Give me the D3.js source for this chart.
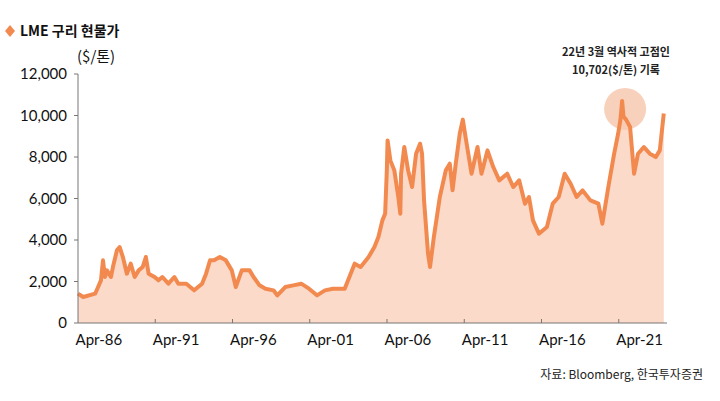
<!DOCTYPE html><html><head><meta charset="utf-8"><script src="https://cdn.jsdelivr.net/npm/d3@7/dist/d3.min.js"></script>
<style>body{margin:0;background:#fff;font-family:"Noto Sans CJK KR","Noto Sans",sans-serif}</style></head><body><svg id="c" width="720" height="401"></svg>
<script>
const years=[1984.94,1985.28,1986.06,1986.44,1986.57,1986.70,1986.83,1987.09,1987.22,1987.48,1987.66,1987.87,1988.13,1988.38,1988.64,1988.90,1989.16,1989.37,1989.55,1989.94,1990.19,1990.45,1990.84,1991.23,1991.49,1992.01,1992.52,1993.04,1993.30,1993.56,1993.82,1994.20,1994.59,1994.98,1995.24,1995.63,1996.14,1996.40,1996.79,1997.18,1997.70,1997.95,1998.47,1998.99,1999.51,2000.02,2000.54,2001.06,2001.58,2002.35,2002.74,2003.00,2003.39,2003.91,2004.29,2004.55,2004.81,2004.99,2005.10,2005.15,2005.33,2005.59,2005.85,2005.98,2006.03,2006.24,2006.49,2006.75,2007.01,2007.27,2007.40,2007.53,2007.79,2007.92,2008.17,2008.56,2008.95,2009.21,2009.39,2009.60,2009.86,2010.06,2010.24,2010.63,2011.02,2011.28,2011.67,2012.05,2012.44,2012.96,2013.35,2013.74,2014.12,2014.38,2014.64,2015.03,2015.55,2015.93,2016.32,2016.71,2017.10,2017.49,2017.88,2018.39,2018.91,2019.17,2019.56,2019.94,2020.20,2020.35,2020.46,2020.55,2020.72,2020.98,2021.24,2021.50,2021.88,2022.27,2022.66,2022.92,2023.18,2023.39];
const prices=[1413,1253,1413,2056,3019,2216,2537,2216,2698,3501,3662,3180,2377,2859,2216,2537,2698,3180,2377,2216,2056,2216,1895,2216,1895,1895,1574,1895,2377,3019,3019,3180,3019,2537,1734,2537,2537,2216,1815,1654,1574,1333,1734,1815,1895,1654,1333,1574,1654,1654,2377,2859,2698,3180,3662,4143,4946,5268,7355,8801,7837,7355,6071,5268,7195,8480,7355,6552,8159,8640,8159,5910,3340,2698,4143,6071,7355,7677,6392,7677,9122,9800,8961,7195,8480,7195,8319,7516,6874,7195,6552,6874,5749,6071,4946,4304,4625,5749,6071,7195,6713,6071,6392,5910,5749,4786,6552,8159,9122,9800,10702,9950,9800,9443,7195,8159,8480,8159,7995,8319,10100];
const yTicks=[0,2000,4000,6000,8000,10000,12000];
const xLabels=["Apr-86","Apr-91","Apr-96","Apr-01","Apr-06","Apr-11","Apr-16","Apr-21"];

const svg=d3.select("#c");
const x=d3.scaleLinear().domain([years[0],years[years.length-1]]).range([78,667]);
const y=d3.scaleLinear().domain([0,12000]).range([323,74]);
const cat=d3.scaleLinear().domain([0,8]).range([78,696]);
const n=Math.min(years.length,prices.length);
const data=d3.range(n).map(i=>({t:years[i],v:prices[i]}));

const areaGen=d3.area().x(d=>x(d.t)).y0(()=>y(0)).y1(d=>y(d.v));
svg.append("path").attr("fill","#FBDACA").attr("d",areaGen(data));
const pk=data.reduce((a,b)=>b.v>a.v?b:a);
svg.append("circle").attr("cx",x(pk.t)+3).attr("cy",y(pk.v)+8).attr("r",21).attr("fill","#F7C9B0").attr("opacity",0.85);
const lineGen=d3.line().x(d=>x(d.t)).y(d=>y(d.v));
svg.append("path").attr("fill","none").attr("stroke","#F28A4F").attr("stroke-width",4).attr("stroke-linejoin","round").attr("d",lineGen(data));

svg.append("line").attr("x1",78).attr("x2",78).attr("y1",y(12000)).attr("y2",y(0)).attr("stroke","#777");
yTicks.forEach(v=>{
 svg.append("line").attr("x1",74).attr("x2",78).attr("y1",y(v)).attr("y2",y(v)).attr("stroke","#777");
 svg.append("text").attr("x",67).attr("y",y(v)+5).attr("text-anchor","end").attr("font-size",15).attr("fill","#111").attr("font-family","Lato, sans-serif").text(d3.format(",")(v));
});
svg.append("line").attr("x1",78).attr("x2",667).attr("y1",323).attr("y2",323).attr("stroke","#777");
for(let i=1;i<=7;i++) svg.append("line").attr("x1",cat(i)).attr("x2",cat(i)).attr("y1",319).attr("y2",323).attr("stroke","#777");
xLabels.forEach((l,i)=>svg.append("text").attr("x",cat(i+0.27)).attr("y",345).attr("text-anchor","middle").attr("font-size",15).attr("fill","#111").attr("font-family","Lato, sans-serif").text(l));

svg.append("path").attr("d","M10,25 L15,31 L10,37 L5,31 Z").attr("fill","#F28A4F");
svg.append("text").attr("x",20).attr("y",36).attr("font-size",14).attr("font-weight","bold").attr("fill","#111").text("LME 구리 현물가");
svg.append("text").attr("x",77).attr("y",62).attr("font-size",15).attr("fill","#111").text("($/톤)");
svg.append("text").attr("x",616).attr("y",56).attr("text-anchor","middle").attr("font-size",11).attr("font-weight","bold").attr("fill","#222").text("22년 3월 역사적 고점인");
svg.append("text").attr("x",616).attr("y",74).attr("text-anchor","middle").attr("font-size",11).attr("font-weight","bold").attr("fill","#222").text("10,702($/톤) 기록");
svg.append("text").attr("x",703).attr("y",379).attr("text-anchor","end").attr("font-size",12).attr("fill","#222").text("자료: Bloomberg, 한국투자증권");
</script></body></html>
